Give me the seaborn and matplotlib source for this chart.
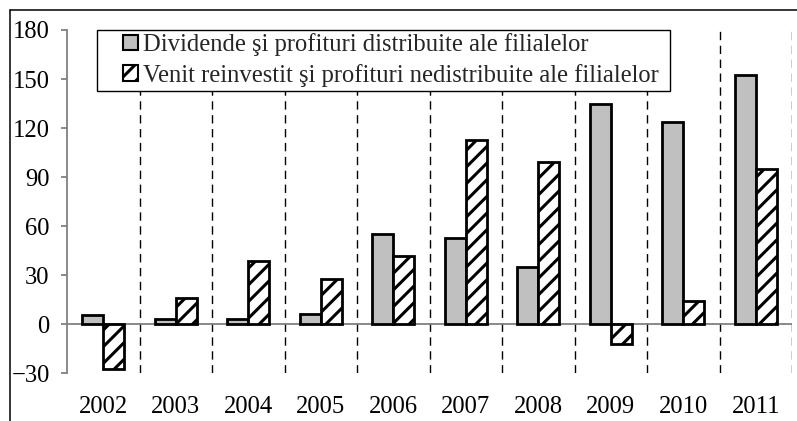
import numpy as np
import pandas as pd
import seaborn as sns
import matplotlib.pyplot as plt
from matplotlib.patches import Patch, Rectangle
from matplotlib.lines import Line2D

# date
ani = ["2002", "2003", "2004", "2005", "2006", "2007", "2008", "2009", "2010", "2011"]
dividende = [5.5, 3.5, 3.5, 6, 55, 53, 35, 134.5, 123.5, 152.5]
venit = [-27.5, 16, 38.5, 27.5, 41.5, 113, 99, -12, 14.5, 95]
serii = ["Dividende şi profituri distribuite ale filialelor",
         "Venit reinvestit şi profituri nedistribuite ale filialelor"]
y_ticks = [-30, 0, 30, 60, 90, 120, 150, 180]

sns.set_theme(style="white")
plt.rcParams["font.family"] = ["Liberation Serif", "DejaVu Serif"]
plt.rcParams["hatch.color"] = "black"
plt.rcParams["hatch.linewidth"] = 2.2

df = pd.DataFrame({
    "An": ani * 2,
    "Valoare": dividende + venit,
    "Serie": [serii[0]] * len(ani) + [serii[1]] * len(ani),
})

W, H = 797, 421
fs = 17.7
fig = plt.figure(figsize=(W / 100, H / 100), dpi=100)
ax = fig.add_axes([67 / W, 47.7 / H, 725 / W, 343.3 / H])

sns.barplot(data=df, x="An", y="Valoare", hue="Serie",
            palette=["#C0C0C0", "white"], width=0.58, gap=0,
            edgecolor="black", linewidth=2, saturation=1,
            errorbar=None, legend=False, ax=ax)
for bar in ax.containers[1]:
    bar.set_hatch("//")

# linii verticale punctate intre ani
ax.vlines(np.arange(0.5, len(ani)), -30, 180, colors="black",
          linestyles=(0, (6, 4)), linewidth=1, zorder=0.5)
ax.axhline(0, color="#808080", lw=1.3, zorder=0.6)

ax.set_xlim(-0.5, len(ani) - 0.5)
ax.set_ylim(-30, 180)
ax.set_yticks(y_ticks)
ax.set_xlabel("")
ax.set_ylabel("")
for s in ["top", "right", "bottom"]:
    ax.spines[s].set_visible(False)
ax.spines["left"].set_color("#808080")
ax.spines["left"].set_linewidth(1.3)
ax.tick_params(axis="y", left=True, direction="out", length=4.5, width=1.3,
               color="#808080", pad=8, labelsize=fs, labelcolor="black")
ax.tick_params(axis="x", bottom=False, length=0, pad=16, labelsize=fs,
               labelcolor="black")

# legenda
handles = [Patch(facecolor="#C0C0C0", edgecolor="black", linewidth=1.5),
           Patch(facecolor="white", edgecolor="black", linewidth=1.5, hatch="//")]
ax.add_patch(Rectangle((97 / W, 1 - 91 / H), 573 / W, 61 / H,
                       transform=fig.transFigure, facecolor="white",
                       edgecolor="black", linewidth=1, zorder=4, clip_on=False))
leg = ax.legend(handles, serii, loc="upper left",
                bbox_to_anchor=(123 / W, 1 - 33 / H), bbox_transform=fig.transFigure,
                frameon=False, handlelength=0.6, handleheight=0.6,
                handletextpad=0.2, labelspacing=0.32, borderpad=0,
                borderaxespad=0, fontsize=fs)
leg.set_zorder(5)

# chenarul figurii
fig.add_artist(Line2D([10 / W, 10 / W], [0, 1 - 10 / H], transform=fig.transFigure,
                      color="black", lw=1.1))
fig.add_artist(Line2D([10 / W, 1], [1 - 10 / H, 1 - 10 / H], transform=fig.transFigure,
                      color="black", lw=1.1))

fig.savefig("out.png", dpi=100)
